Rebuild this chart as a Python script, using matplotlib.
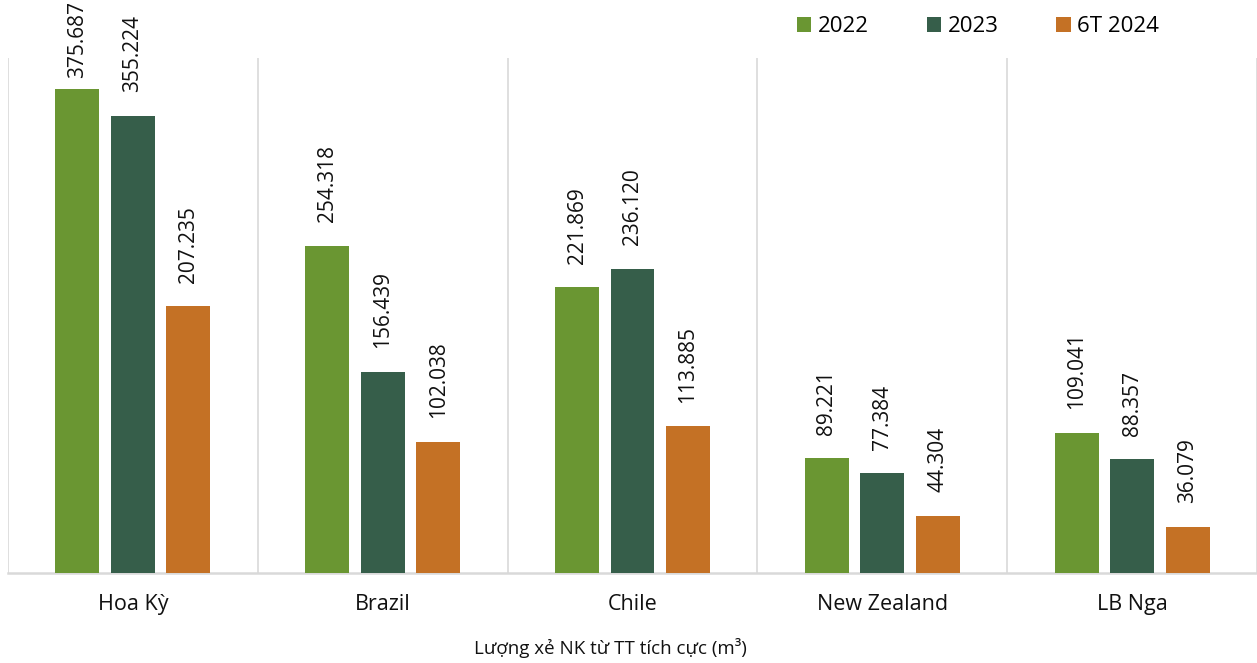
import numpy as np
import matplotlib.pyplot as plt

plt.rcParams['font.family'] = ['Open Sans', 'DejaVu Sans']

markets = ['Hoa Kỳ', 'Brazil', 'Chile', 'New Zealand', 'LB Nga']
series_names = ['2022', '2023', '6T 2024']
vol_2022 = [375.687, 254.318, 221.869, 89.221, 109.041]
vol_2023 = [355.224, 156.439, 236.120, 77.384, 88.357]
vol_6t2024 = [207.235, 102.038, 113.885, 44.304, 36.079]
colors = ['#6a9632', '#365e4a', '#c47125']

W, H = 1257, 663
fig = plt.figure(figsize=(W / 100, H / 100), dpi=100)
ax = fig.add_axes([8 / W, 90 / H, 1249 / W, 515 / H])

x = np.arange(len(markets))
width = 0.176
step = 0.222
labels = []
for i, (vals, name, col) in enumerate(zip([vol_2022, vol_2023, vol_6t2024], series_names, colors)):
    pos = x + (i - 1) * step
    ax.bar(pos, vals, width, color=col, label=name, zorder=3)
    for px, v in zip(pos, vals):
        t = ax.annotate(f'{v:.3f}', (px, v), xytext=(0, 17), textcoords='offset points',
                        rotation=90, ha='center', va='bottom', fontsize=15,
                        color='#111111', annotation_clip=False)
        labels.append(t)

ax.set_xlim(-0.5, len(markets) - 0.5)
ax.set_ylim(0, 400)

# separators between markets
for b in np.arange(-0.5, len(markets), 1.0):
    ax.axvline(b, color='#d9d9d9', lw=1.2, zorder=1)

for s in ['top', 'right', 'left']:
    ax.spines[s].set_visible(False)
ax.spines['bottom'].set_color('#d9d9d9')
ax.spines['bottom'].set_linewidth(1.8)

ax.set_yticks([])
ax.set_xticks(x)
ax.set_xticklabels(markets, fontsize=15.5, color='#111111')
ax.tick_params(axis='x', length=0, pad=15)

fig.text(0.486, 0.022, 'Lượng xẻ NK từ TT tích cực (m³)', ha='center', va='center',
         fontsize=13.5, color='#111111')

fig.legend(loc='center', bbox_to_anchor=(0.778, 0.96), ncol=3, frameon=False,
           fontsize=16, handlelength=0.65, handleheight=0.65, handletextpad=0.3,
           columnspacing=2.6)

# push labels that run off the top edge back inside the figure
fig.canvas.draw()
renderer = fig.canvas.get_renderer()
for t in labels:
    bb = t.get_window_extent(renderer)
    over = bb.y1 - (H - 1)
    if over > 0:
        dx, dy = t.xyann
        t.xyann = (dx, dy - over * 72 / 100)

fig.savefig('out.png', dpi=100)
